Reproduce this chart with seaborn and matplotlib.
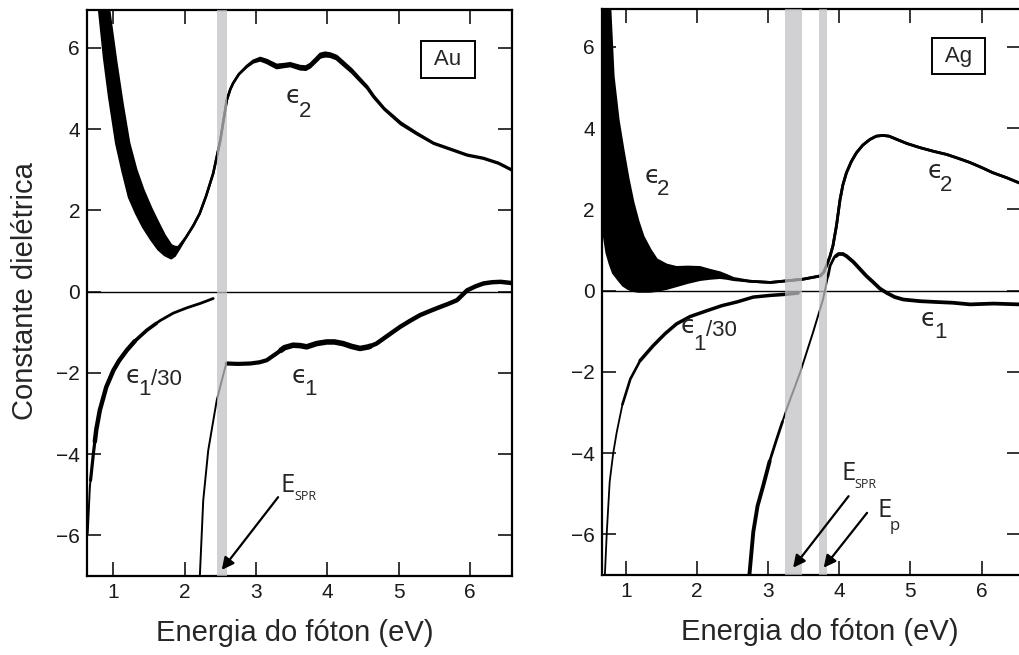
import numpy as np
import pandas as pd
import matplotlib
matplotlib.use("Agg")
import matplotlib.pyplot as plt
import seaborn as sns

# ---------------- data ----------------
# Au panel
au_e2_energy = [0.80, 0.87, 0.94, 1.04, 1.13, 1.22, 1.32, 1.42, 1.53, 1.63, 1.72, 1.81, 1.86,
                1.91, 2.02, 2.12, 2.21, 2.30, 2.40, 2.50, 2.59, 2.64, 2.68, 2.76, 2.87, 2.96,
                3.06, 3.15, 3.29, 3.40, 3.48, 3.62, 3.70, 3.76, 3.83, 3.90, 3.97, 4.04, 4.13,
                4.22, 4.34, 4.46, 4.56, 4.65, 4.80, 5.03, 5.25, 5.49, 5.75, 5.96, 6.19, 6.40, 6.59]
au_e2_low = [6.93, 5.75, 4.80, 3.65, 2.95, 2.32, 1.92, 1.58, 1.28, 1.04, 0.90, 0.82, 0.88,
             1.02, 1.34, 1.62, 1.92, 2.35, 2.91, 3.73, 4.71, 4.98, 5.13, 5.35, 5.53, 5.64,
             5.69, 5.63, 5.50, 5.53, 5.55, 5.47, 5.46, 5.52, 5.64, 5.76, 5.79, 5.78, 5.72,
             5.58, 5.40, 5.18, 5.00, 4.78, 4.48, 4.12, 3.88, 3.64, 3.48, 3.35, 3.27, 3.15, 2.98]
au_e2_high = [8.20, 7.60, 6.93, 5.65, 4.60, 3.66, 3.00, 2.50, 2.05, 1.69, 1.38, 1.14, 1.10,
              1.09, 1.34, 1.62, 1.92, 2.35, 2.91, 3.73, 4.71, 4.98, 5.13, 5.35, 5.55, 5.68,
              5.75, 5.70, 5.58, 5.60, 5.62, 5.55, 5.54, 5.60, 5.72, 5.85, 5.88, 5.86, 5.80,
              5.66, 5.47, 5.24, 5.05, 4.82, 4.51, 4.16, 3.91, 3.66, 3.50, 3.37, 3.29, 3.17, 3.00]

au_e1_30_energy = [0.64, 0.67, 0.72, 0.76, 0.81, 0.90, 1.00, 1.08, 1.19, 1.30, 1.47, 1.65,
                   1.84, 2.03, 2.22, 2.40]
au_e1_30_value = [-5.95, -4.81, -3.98, -3.40, -2.92, -2.35, -1.94, -1.70, -1.44, -1.22,
                  -0.95, -0.72, -0.53, -0.40, -0.29, -0.17]

au_e1_energy = [2.21, 2.26, 2.33, 2.45, 2.57, 2.59, 2.75, 2.92, 3.05, 3.15, 3.29, 3.40, 3.52,
                3.62, 3.71, 3.85, 3.99, 4.10, 4.22, 4.34, 4.46, 4.58, 4.69, 4.85, 5.02, 5.16,
                5.30, 5.45, 5.58, 5.70, 5.82, 5.96, 6.08, 6.19, 6.31, 6.43, 6.59]
au_e1_value = [-7.10, -5.14, -3.91, -2.67, -1.85, -1.77, -1.78, -1.77, -1.74, -1.69, -1.52,
               -1.38, -1.32, -1.33, -1.36, -1.28, -1.24, -1.24, -1.28, -1.35, -1.40, -1.36,
               -1.28, -1.08, -0.87, -0.72, -0.58, -0.47, -0.38, -0.30, -0.21, 0.03, 0.13,
               0.20, 0.23, 0.24, 0.21]

au_bands = [(2.45, 2.59)]

# Ag panel
ag_e2_energy = [0.66, 0.68, 0.70, 0.73, 0.775, 0.82, 0.89, 0.96, 1.03, 1.10, 1.17, 1.24, 1.34,
                1.43, 1.57, 1.71, 1.87, 2.04, 2.18, 2.32, 2.42, 2.51, 2.74, 3.03, 3.26, 3.49,
                3.73, 3.78, 3.82, 3.87, 3.91, 3.96, 4.01, 4.05, 4.10, 4.17, 4.24, 4.33, 4.43,
                4.52, 4.61, 4.70, 4.81, 4.95, 5.13, 5.32, 5.51, 5.68, 5.84, 6.00, 6.16, 6.35, 6.53]
ag_e2_high = [12.0, 10.8, 9.50, 8.20, 6.91, 5.27, 4.20, 3.45, 2.75, 2.16, 1.70, 1.33, 1.00,
              0.76, 0.63, 0.57, 0.58, 0.57, 0.50, 0.44, 0.37, 0.30, 0.23, 0.20, 0.24, 0.28,
              0.36, 0.45, 0.61, 0.85, 1.10, 1.60, 2.24, 2.60, 2.90, 3.18, 3.39, 3.58, 3.72,
              3.80, 3.82, 3.80, 3.72, 3.62, 3.52, 3.43, 3.35, 3.25, 3.15, 3.03, 2.90, 2.78, 2.65]
ag_e2_low = [1.75, 1.50, 1.27, 0.93, 0.66, 0.44, 0.28, 0.13, 0.05, 0.00, -0.02, -0.02, -0.02,
             0.00, 0.05, 0.12, 0.20, 0.27, 0.30, 0.32, 0.30, 0.27, 0.23, 0.20, 0.24, 0.28,
             0.36, 0.45, 0.61, 0.85, 1.10, 1.60, 2.24, 2.60, 2.90, 3.18, 3.39, 3.58, 3.72,
             3.80, 3.82, 3.80, 3.72, 3.62, 3.52, 3.43, 3.35, 3.25, 3.15, 3.03, 2.90, 2.78, 2.65]

ag_e1_30_energy = [0.70, 0.73, 0.77, 0.82, 0.87, 0.95, 1.06, 1.20, 1.38, 1.55, 1.71, 1.90,
                   2.13, 2.35, 2.56, 2.79, 3.02, 3.26, 3.42]
ag_e1_30_value = [-7.10, -5.94, -4.71, -4.00, -3.48, -2.80, -2.18, -1.72, -1.36, -1.06, -0.82,
                  -0.64, -0.50, -0.37, -0.28, -0.16, -0.12, -0.09, -0.06]

ag_e1_energy = [2.73, 2.79, 2.85, 2.93, 3.02, 3.12, 3.26, 3.45, 3.63, 3.77, 3.80, 3.84, 3.87,
                3.93, 3.99, 4.05, 4.10, 4.20, 4.29, 4.38, 4.48, 4.57, 4.67, 4.78, 4.90, 5.13,
                5.35, 5.60, 5.84, 6.00, 6.17, 6.35, 6.53]
ag_e1_value = [-7.10, -5.94, -5.30, -4.80, -4.20, -3.65, -2.91, -2.01, -1.03, -0.22, 0.02, 0.35,
               0.61, 0.82, 0.90, 0.90, 0.85, 0.70, 0.53, 0.36, 0.20, 0.05, -0.06, -0.16, -0.22,
               -0.26, -0.28, -0.30, -0.34, -0.33, -0.32, -0.33, -0.34]

ag_bands = [(3.24, 3.47), (3.72, 3.83)]

x_ticks = [1, 2, 3, 4, 5, 6]
y_ticks = [-6, -4, -2, 0, 2, 4, 6]
x_label = "Energia do fóton (eV)"
y_label = "Constante dielétrica"

# ---------------- style ----------------
sns.set_style("ticks")
plt.rcParams["font.family"] = ["Liberation Sans", "DejaVu Sans"]
plt.rcParams["axes.linewidth"] = 1.5

fig = plt.figure(figsize=(10.19, 6.55), dpi=100)
W, H = 1019.0, 655.0
ax_au = fig.add_axes([87 / W, 1 - 576 / H, 425 / W, 566 / H])
ax_ag = fig.add_axes([601.7 / W, 1 - 575 / H, 419.3 / W, 566 / H])

BAND_COLOR = (0.753, 0.753, 0.765)


def piecewise_line(ax, x, y, breaks, widths, color="black"):
    x = np.asarray(x, float)
    y = np.asarray(y, float)
    edges = [x[0]] + list(breaks) + [x[-1]]
    for a, b, w in zip(edges[:-1], edges[1:], widths):
        inner = x[(x > a) & (x < b)]
        xs = np.concatenate([[a], inner, [b]])
        ys = np.interp(xs, x, y)
        df = pd.DataFrame({"E": xs, "v": ys})
        sns.lineplot(data=df, x="E", y="v", ax=ax, color=color, lw=w, sort=False,
                     estimator=None, solid_capstyle="round", solid_joinstyle="round",
                     zorder=3)


def band_curve(ax, x, low, high, lw):
    ax.fill_between(x, low, high, color="black", lw=0, zorder=3)
    for arr in (low, high):
        df = pd.DataFrame({"E": x, "v": arr})
        sns.lineplot(data=df, x="E", y="v", ax=ax, color="black", lw=lw, sort=False,
                     estimator=None, solid_joinstyle="round", zorder=3)


def eps_label(ax, x, y, sub, tail=None, sub_off=(9.2, -8.8), tail_off=(18.2, -1.2)):
    ax.text(x, y, "\u03f5", fontsize=18, family="DejaVu Sans", ha="left", va="baseline",
            zorder=7)
    ax.annotate(sub, xy=(x, y), xytext=sub_off, textcoords="offset points", fontsize=16,
                ha="left", va="baseline", zorder=7)
    if tail:
        ax.annotate(tail, xy=(x, y), xytext=tail_off, textcoords="offset points",
                    fontsize=16, ha="left", va="baseline", zorder=7)


def e_label(ax, x, y, sub, sub_off, sub_size):
    ax.text(x, y, "E", fontsize=18.5, family="Open Sans", ha="left", va="baseline", zorder=7)
    ax.annotate(sub, xy=(x, y), xytext=sub_off, textcoords="offset points",
                fontsize=sub_size, family="Open Sans", ha="left", va="baseline", zorder=7)


def arrow(ax, start, tip):
    ax.annotate("", xy=tip, xytext=start,
                arrowprops=dict(arrowstyle="-|>", color="black", lw=1.6, mutation_scale=18,
                                shrinkA=0, shrinkB=0), zorder=7)


def style_axes(ax, xlim, label_x):
    ax.set_xlim(*xlim)
    ax.set_ylim(-7.0, 6.93)
    ax.set_xticks(x_ticks)
    ax.set_yticks(y_ticks)
    ax.tick_params(direction="in", length=10, width=1.1, top=True, right=True,
                   labelsize=15, pad=5, colors="black", labelcolor="#1a1a1a")
    for s in ax.spines.values():
        s.set_linewidth(1.6)
        s.set_color("black")
        s.set_visible(True)
    ax.axhline(0, color="black", lw=1.0, zorder=2)
    ax.set_xlabel(x_label, fontsize=21)
    ax.xaxis.set_label_coords(label_x, -0.076)
    ax.xaxis.label.set_va("top")
    ax.set_ylabel("")


# ---------------- Au ----------------
band_curve(ax_au, au_e2_energy, au_e2_low, au_e2_high, lw=1.8)
piecewise_line(ax_au, au_e1_30_energy, au_e1_30_value, [0.68, 0.74, 1.30, 1.6],
               [1.4, 2.3, 3.2, 2.6, 2.0])
piecewise_line(ax_au, au_e1_energy, au_e1_value, [2.59, 3.35, 4.6], [1.4, 3.0, 4.0, 3.2])
for a, b in au_bands:
    ax_au.axvspan(a, b, color=BAND_COLOR, alpha=0.73, lw=0, zorder=5)

style_axes(ax_au, (0.63, 6.59), 0.489)
ax_au.set_ylabel(y_label, fontsize=21)
ax_au.yaxis.set_label_coords(-0.113, 0.504)

ax_au.text(5.69, 5.72, " Au ", fontsize=16, ha="center", va="center", zorder=7,
           bbox=dict(boxstyle="square,pad=0.36", fc="white", ec="black", lw=1.4))
eps_label(ax_au, 3.42, 4.63, "2", sub_off=(9.2, -9.6))
eps_label(ax_au, 1.17, -2.26, "1", "/30", sub_off=(9.2, -8.4))
eps_label(ax_au, 3.50, -2.26, "1", sub_off=(9.2, -8.4))
e_label(ax_au, 3.34, -4.94, "SPR", (10.3, -5.5), 9)
arrow(ax_au, (3.31, -5.06), (2.52, -6.85))

# ---------------- Ag ----------------
band_curve(ax_ag, ag_e2_energy, ag_e2_low, ag_e2_high, lw=2.0)
piecewise_line(ax_ag, ag_e1_30_energy, ag_e1_30_value, [0.95, 1.2], [1.3, 1.9, 2.5])
piecewise_line(ax_ag, ag_e1_energy, ag_e1_value, [3.02, 3.2, 3.84, 3.95],
               [2.8, 2.0, 1.4, 2.0, 2.7])
for a, b in ag_bands:
    ax_ag.axvspan(a, b, color=BAND_COLOR, alpha=0.73, lw=0, zorder=5)

style_axes(ax_ag, (0.658, 6.555), 0.52)

ax_ag.text(5.68, 5.77, " Ag ", fontsize=16, ha="center", va="center", zorder=7,
           bbox=dict(boxstyle="square,pad=0.33", fc="white", ec="black", lw=1.4))
eps_label(ax_ag, 1.26, 2.65, "2")
eps_label(ax_ag, 5.24, 2.77, "2", sub_off=(9.2, -9.6))
eps_label(ax_ag, 1.77, -1.04, "1", "/30", sub_off=(9.2, -12.0), tail_off=(18.2, -2.4))
eps_label(ax_ag, 5.15, -0.88, "1", sub_off=(9.2, -8.4))
e_label(ax_ag, 4.03, -4.65, "SPR", (9.6, -6.0), 9)
e_label(ax_ag, 4.54, -5.58, "p", (8.9, -9.0), 12)
arrow(ax_ag, (4.13, -5.06), (3.35, -6.82))
arrow(ax_ag, (4.39, -5.47), (3.78, -6.82))

fig.savefig("out.png", dpi=100)
